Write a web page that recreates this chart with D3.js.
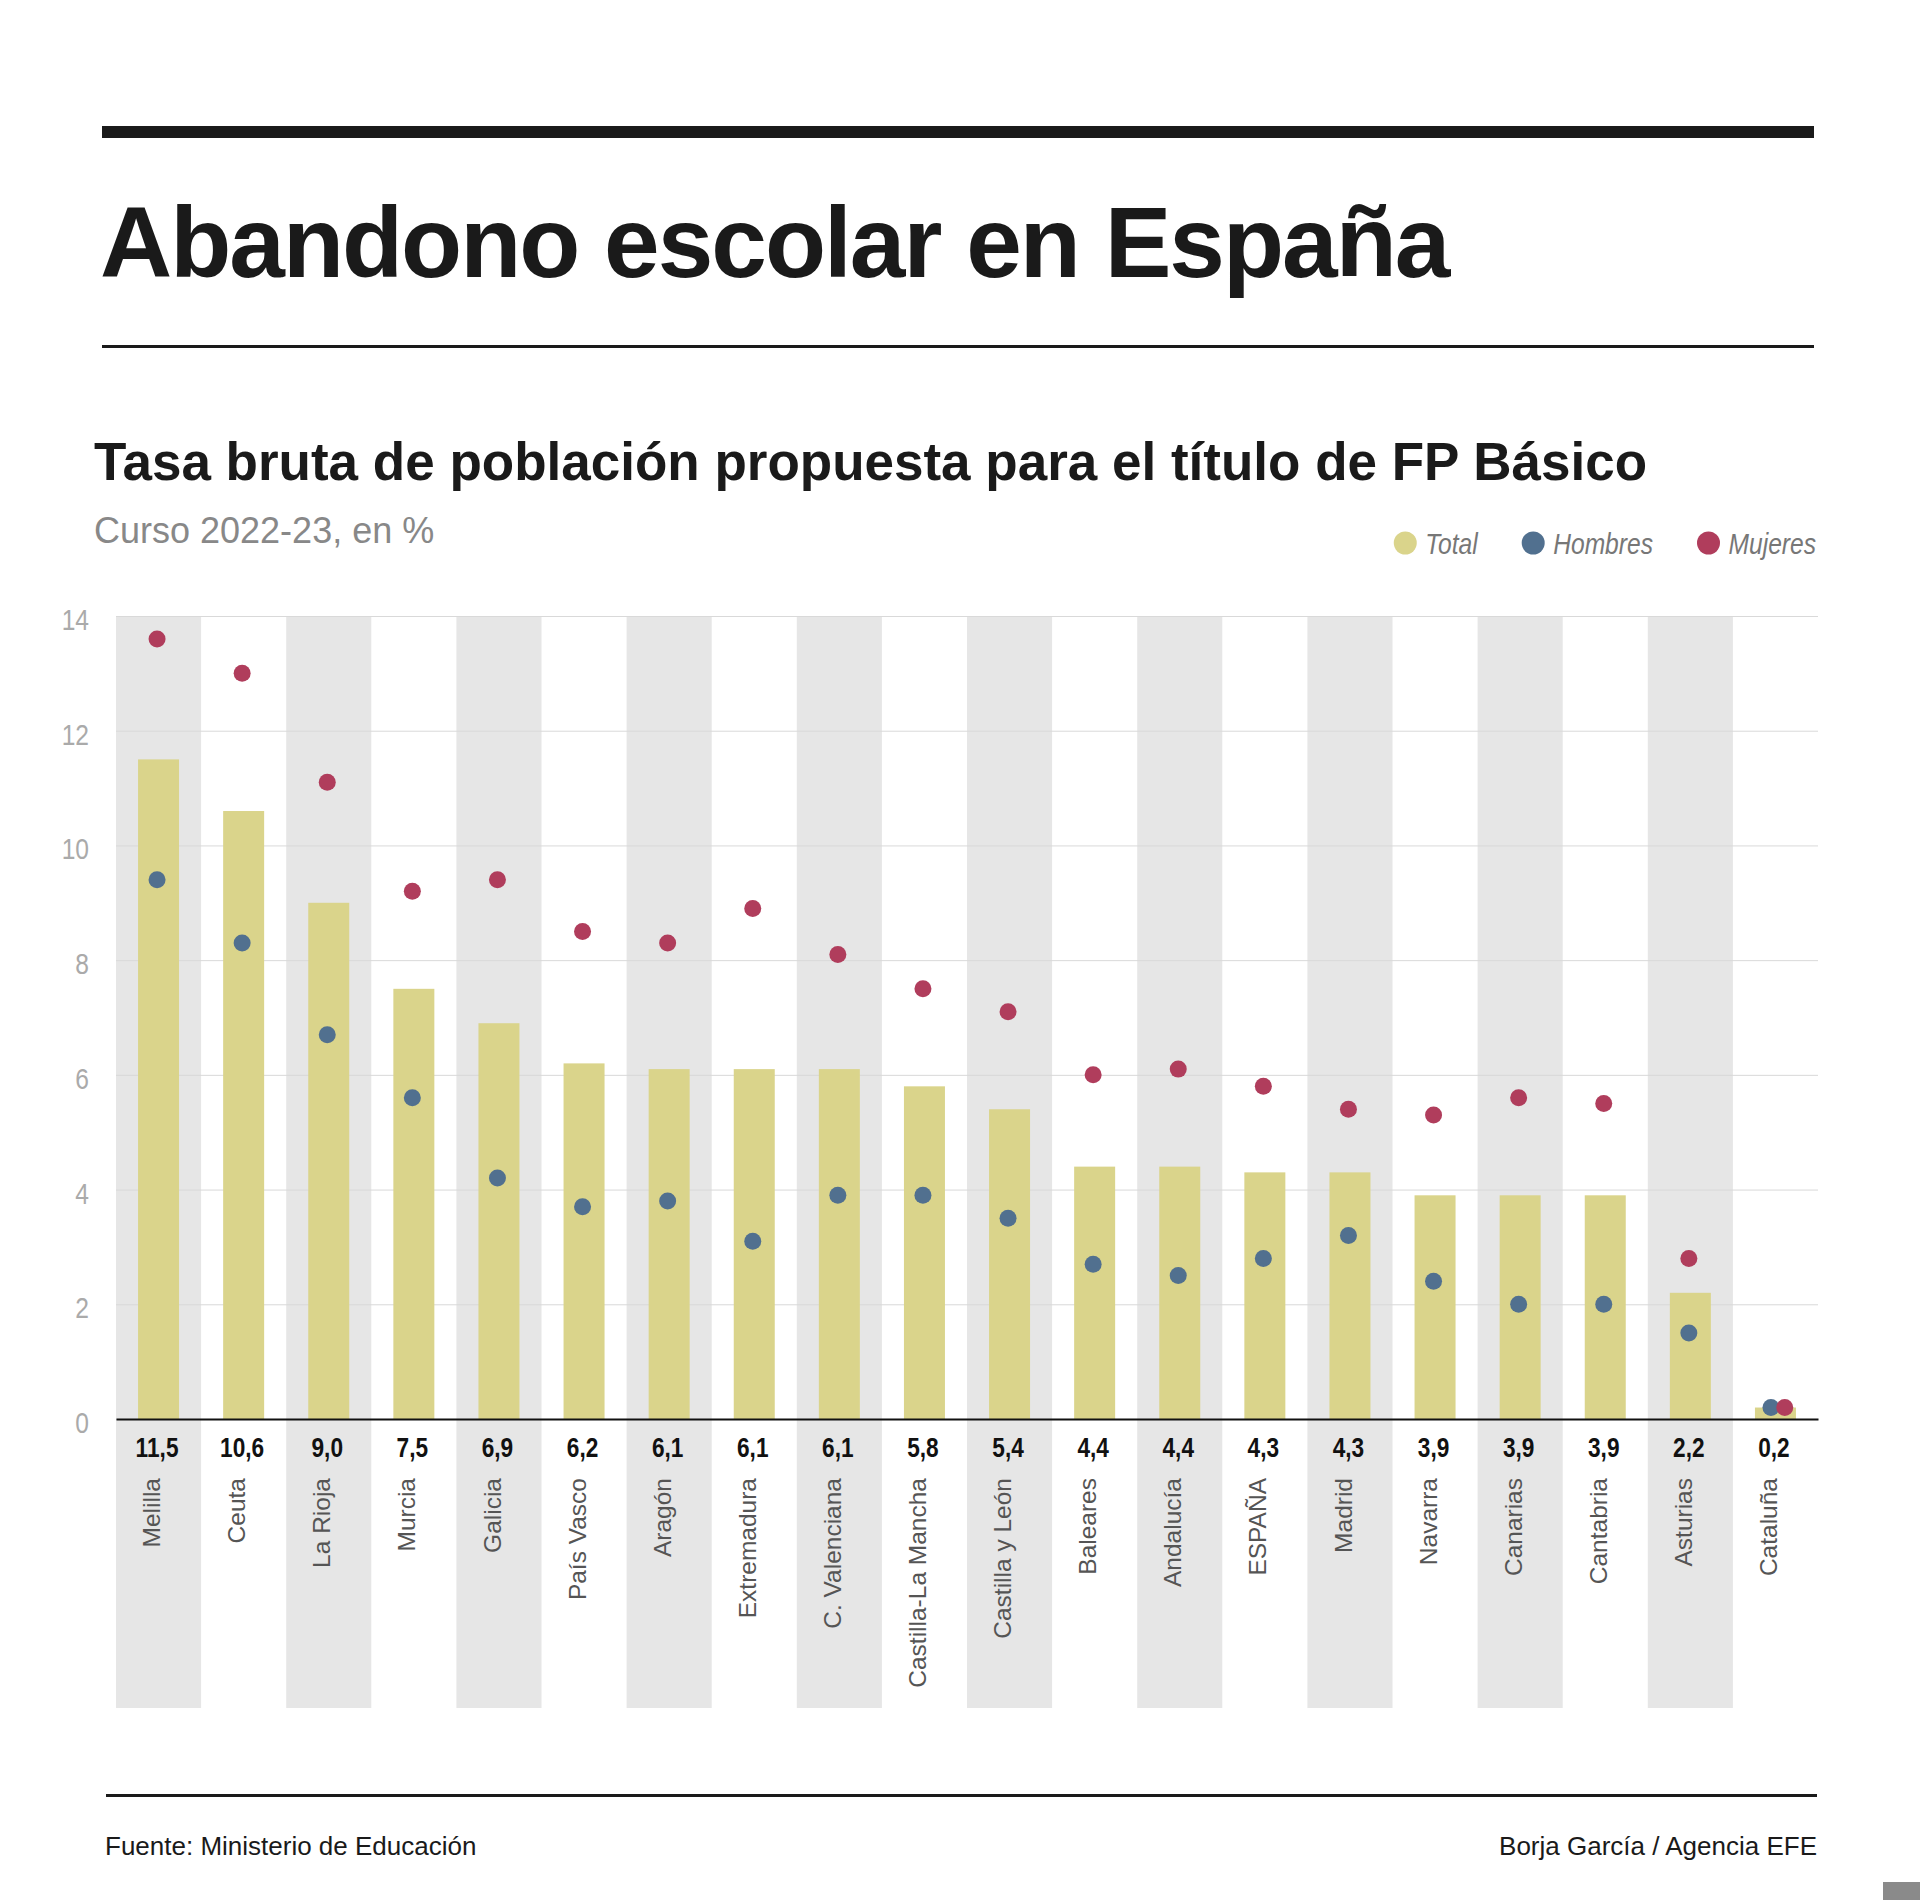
<!DOCTYPE html>
<html><head><meta charset="utf-8">
<script src="https://cdn.jsdelivr.net/npm/d3@7"></script>
<style>
html,body{margin:0;padding:0;background:#fff;}
svg{display:block;}
</style></head>
<body>
<script>
const categories = ["Melilla","Ceuta","La Rioja","Murcia","Galicia","País Vasco","Aragón","Extremadura","C. Valenciana","Castilla-La Mancha","Castilla y León","Baleares","Andalucía","ESPAÑA","Madrid","Navarra","Canarias","Cantabria","Asturias","Cataluña"];
const total   = [11.5,10.6,9.0,7.5,6.9,6.2,6.1,6.1,6.1,5.8,5.4,4.4,4.4,4.3,4.3,3.9,3.9,3.9,2.2,0.2];
const hombres = [9.4,8.3,6.7,5.6,4.2,3.7,3.8,3.1,3.9,3.9,3.5,2.7,2.5,2.8,3.2,2.4,2.0,2.0,1.5,0.2];
const mujeres = [13.6,13.0,11.1,9.2,9.4,8.5,8.3,8.9,8.1,7.5,7.1,6.0,6.1,5.8,5.4,5.3,5.6,5.5,2.8,0.2];
const yTicks  = [0,2,4,6,8,10,12,14];
const seriesNames = ["Total","Hombres","Mujeres"];

const C_TOTAL = "#dad48b", C_H = "#51708f", C_M = "#b03d5c";
const SANS = "'Liberation Sans',Arial,Helvetica,sans-serif";
const NARROW_K = 0.82;

const W = 1920, H = 1900;
const svg = d3.select("body").append("svg").attr("width", W).attr("height", H);

// Header
svg.append("rect").attr("x",102).attr("y",126).attr("width",1712).attr("height",12).attr("fill","#1a1a1a");
svg.append("text").attr("x",100).attr("y",277).text("Abandono escolar en España")
  .attr("font-family",SANS).attr("font-weight","bold").attr("font-size",100).attr("letter-spacing",-2).attr("fill","#1a1a1a");
svg.append("rect").attr("x",102).attr("y",345).attr("width",1712).attr("height",3).attr("fill","#1a1a1a");

svg.append("text").attr("x",94).attr("y",480).text("Tasa bruta de población propuesta para el título de FP Básico")
  .attr("font-family",SANS).attr("font-weight","bold").attr("font-size",53).attr("fill","#1a1a1a");
svg.append("text").attr("x",94).attr("y",543).text("Curso 2022-23, en %")
  .attr("font-family",SANS).attr("font-size",36).attr("fill","#888");

// Legend (right aligned, condensed text)
const legColors = [C_TOTAL, C_H, C_M];
const legG = svg.append("g");
let lx = 1816;
for (let i = seriesNames.length - 1; i >= 0; i--) {
  const t = legG.append("text").attr("x",0).attr("y",0).text(seriesNames[i])
    .attr("font-family",SANS).attr("font-style","italic").attr("font-size",30).attr("fill","#777");
  const w = t.node().getComputedTextLength() * NARROW_K;
  t.attr("transform", `translate(${lx - w},554) scale(${NARROW_K},1)`);
  legG.append("circle").attr("cx", lx - w - 20).attr("cy",543).attr("r",11.5).attr("fill",legColors[i]);
  lx = lx - w - 20 - 11.5 - 44;
}

// Scales
const x = d3.scaleBand().domain(categories).range([116, 1818]).padding(0);
const y = d3.scaleLinear().domain([0,14]).range([1419, 616]);
const bw = x.bandwidth();

// Alternating bands
svg.append("g").selectAll("rect").data(categories.filter((d,i)=>i%2===0)).join("rect")
  .attr("x", d=>x(d)).attr("y", y(14)).attr("width", bw).attr("height", 1708 - y(14)).attr("fill","#e6e6e6");

// Grid + y axis
const yAxis = svg.append("g").attr("transform","translate(116,0)")
  .call(d3.axisLeft(y).tickValues(yTicks).tickSize(-(1818-116)).tickPadding(27).tickFormat(d3.format("d")));
yAxis.select(".domain").remove();
yAxis.selectAll(".tick line").attr("stroke","#d9d9d9").attr("stroke-width",1);
yAxis.selectAll(".tick text").attr("font-family",SANS).attr("font-size",30).attr("fill","#aaa")
  .attr("x", -27 / NARROW_K).attr("dy","0.45em").attr("transform", `scale(${NARROW_K},1)`);

// Bars
svg.append("g").selectAll("rect").data(categories).join("rect")
  .attr("x", d=>x(d) + bw/2 - 20.5).attr("width", 41)
  .attr("y", (d,i)=>y(total[i])).attr("height",(d,i)=>y(0)-y(total[i])).attr("fill",C_TOTAL);

// Axis baseline
svg.append("g").attr("transform",`translate(0,${y(0)})`)
  .call(d3.axisBottom(x).tickSize(0).tickFormat(""))
  .call(g=>g.select(".domain").attr("stroke","#111").attr("stroke-width",2));

// Dots
const dodge = i => hombres[i] === mujeres[i] ? 6 : 0;
svg.append("g").selectAll("circle").data(categories).join("circle")
  .attr("cx",(d,i)=>x(d)+bw/2 - 1.5 - dodge(i)/2).attr("cy",(d,i)=>y(hombres[i])).attr("r",8.5).attr("fill",C_H);
svg.append("g").selectAll("circle").data(categories).join("circle")
  .attr("cx",(d,i)=>x(d)+bw/2 - 1.5 + dodge(i)*1.8).attr("cy",(d,i)=>y(mujeres[i])).attr("r",8.5).attr("fill",C_M);

// Value labels (condensed bold)
const fmt = v => d3.format(".1f")(v).replace(".",",");
svg.append("g").selectAll("text").data(categories).join("text")
  .attr("transform", d=>`translate(${x(d)+bw/2 - 1.5},1457) scale(0.84,1)`).attr("text-anchor","middle")
  .attr("font-family",SANS).attr("font-weight","bold").attr("font-size",27).attr("fill","#111")
  .text((d,i)=>fmt(total[i]));

// Category labels
svg.append("g").selectAll("text").data(categories).join("text")
  .attr("transform", d=>`translate(${x(d)+bw/2 - 7},1478) rotate(-90)`)
  .attr("dy","0.35em").attr("text-anchor","end")
  .attr("font-family",SANS).attr("font-size",24.5).attr("fill","#555")
  .text(d=>d);

// Footer
svg.append("rect").attr("x",106).attr("y",1794).attr("width",1711).attr("height",3).attr("fill","#1a1a1a");
svg.append("text").attr("x",105).attr("y",1855).text("Fuente: Ministerio de Educación")
  .attr("font-family",SANS).attr("font-size",26).attr("fill","#1a1a1a");
svg.append("text").attr("x",1817).attr("y",1855).attr("text-anchor","end").text("Borja García / Agencia EFE")
  .attr("font-family",SANS).attr("font-size",26).attr("fill","#1a1a1a");
svg.append("rect").attr("x",1883).attr("y",1882).attr("width",37).attr("height",18).attr("fill","#8a8a8a");
</script>
</body></html>
